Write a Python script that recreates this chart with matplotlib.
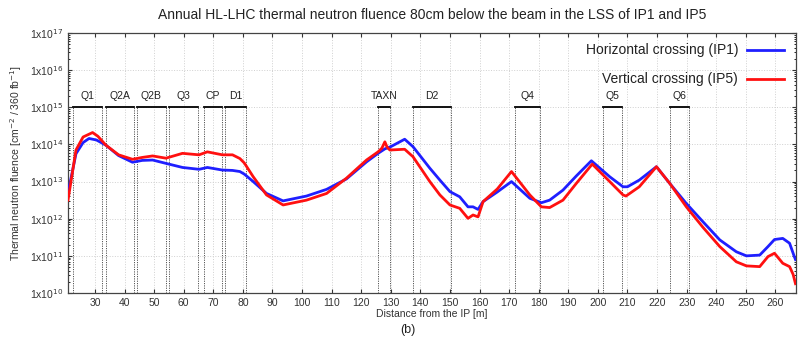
import numpy as np
import matplotlib
matplotlib.use('Agg')
import matplotlib.pyplot as plt
from matplotlib.ticker import FixedLocator, LogLocator, NullFormatter

# ----- DATA -----
# distance from IP [m] and log10 of fluence
h_x = [20.9, 21.3, 23.6, 26.0, 28.0, 30.5, 33.7, 38.0, 42.7, 46.0, 49.5, 54.0,
       59.6, 65.2, 68.0, 73.1, 76.5, 79.0, 80.5, 83.5, 88.0, 93.6, 101.5, 108.3,
       115.0, 121.8, 125.7, 128.0, 130.0, 134.7, 137.5, 143.2, 146.6, 150.0,
       153.3, 156.1, 157.8, 159.5, 161.2, 166.0, 170.8, 177.0, 180.9, 183.7,
       188.2, 192.7, 197.8, 204.0, 208.5, 210.0, 214.0, 219.8, 224.3, 229.9,
       235.5, 241.2, 246.8, 250.2, 254.7, 257.5, 259.7, 262.5, 264.8, 266.4, 266.8]
h_y = [12.75, 12.85, 13.75, 14.05, 14.16, 14.12, 13.98, 13.70, 13.52, 13.57, 13.58, 13.49,
       13.38, 13.33, 13.38, 13.31, 13.30, 13.27, 13.20, 13.00, 12.68, 12.48, 12.61, 12.79,
       13.07, 13.53, 13.76, 13.88, 13.94, 14.14, 13.94, 13.36, 13.04, 12.73,
       12.59, 12.32, 12.32, 12.25, 12.46, 12.72, 13.00, 12.55, 12.43, 12.50,
       12.77, 13.15, 13.56, 13.13, 12.86, 12.86, 13.04, 13.40, 12.95, 12.41,
       11.92, 11.43, 11.11, 11.00, 11.02, 11.25, 11.44, 11.47, 11.34, 10.98, 10.90]

v_x = [20.9, 21.5, 23.6, 26.0, 29.2, 31.0, 33.7, 38.0, 42.7, 46.0, 49.5, 54.0,
       59.6, 65.2, 68.0, 73.1, 76.5, 79.0, 80.5, 83.5, 88.0, 93.6, 101.5, 108.3,
       115.0, 121.8, 125.7, 127.0, 128.0, 128.8, 129.7, 134.7, 137.5, 143.2,
       146.6, 150.0, 153.3, 156.1, 157.8, 159.5, 161.2, 166.0, 170.8, 177.0,
       180.9, 183.7, 188.2, 192.7, 198.1, 204.0, 208.5, 209.5, 214.0, 219.8,
       224.3, 229.9, 235.5, 241.2, 246.8, 250.2, 254.7, 257.5, 259.7, 262.5,
       264.8, 266.0, 266.8]
v_y = [12.50, 12.80, 13.85, 14.20, 14.32, 14.22, 13.98, 13.72, 13.60, 13.65, 13.69, 13.63,
       13.76, 13.72, 13.80, 13.72, 13.72, 13.62, 13.50, 13.13, 12.64, 12.37, 12.50, 12.68,
       13.09, 13.58, 13.80, 13.90, 14.07, 13.92, 13.85, 13.87, 13.67, 13.00,
       12.64, 12.37, 12.28, 12.01, 12.10, 12.05, 12.46, 12.80, 13.27, 12.64,
       12.32, 12.30, 12.50, 12.95, 13.47, 13.00, 12.64, 12.61, 12.86, 13.40,
       12.95, 12.32, 11.77, 11.25, 10.84, 10.73, 10.71, 10.98, 11.07, 10.80,
       10.71, 10.50, 10.25]

# magnet / element boundaries [m]
elem_names = ['Q1', 'Q2A', 'Q2B', 'Q3', 'CP', 'D1', 'TAXN', 'D2', 'Q4', 'Q5', 'Q6']
elem_start = [22.7, 33.7, 44.3, 55.0, 66.8, 74.0, 125.7, 137.5, 172.1, 201.7, 224.5]
elem_end = [32.3, 43.3, 53.9, 64.9, 73.0, 81.0, 129.9, 150.3, 180.6, 208.3, 230.8]

x_ticks = list(range(30, 261, 10))
y_ticks = [1e10, 1e11, 1e12, 1e13, 1e14, 1e15, 1e16, 1e17]
y_labels = [r'1x10$^{%d}$' % e for e in range(10, 18)]

# ----- PLOT -----
plt.rcParams['font.family'] = ['Liberation Sans', 'DejaVu Sans']
fig = plt.figure(figsize=(8.05, 3.44), dpi=100)
ax = fig.add_axes([68 / 805, 1 - 293 / 344, (795.5 - 68) / 805, (293 - 33) / 344])

ax.set_yscale('log')
ax.set_xlim(20.9, 266.8)
ax.set_ylim(1e10, 1e17)

ax.grid(True, which='major', color='#d0d0d0', linestyle=':', linewidth=0.7)

# element boxes: dotted sides up to 1e15, black bar on top
for name, s, e in zip(elem_names, elem_start, elem_end):
    for xb in (s, e):
        ax.plot([xb, xb], [1e10, 1e15], color='#555555', linestyle=(0, (1.2, 1.2)),
                linewidth=0.7, zorder=2)
    ax.plot([s, e], [1e15, 1e15], color='black', linewidth=1.3, zorder=3)
    ax.text((s + e) / 2, 10 ** 15.3, name, ha='center', va='center', fontsize=7.5,
            color='#222222')

ax.plot(h_x, 10 ** np.array(h_y), color='#1f1fff', linewidth=2.0, zorder=4)
ax.plot(v_x, 10 ** np.array(v_y), color='#ff1010', linewidth=2.0, zorder=5)

ax.yaxis.set_major_locator(FixedLocator(y_ticks))
ax.set_yticklabels(y_labels)
ax.yaxis.set_minor_locator(LogLocator(base=10, subs=np.arange(2, 10), numticks=20))
ax.yaxis.set_minor_formatter(NullFormatter())
ax.set_xticks(x_ticks)
ax.tick_params(axis='both', which='major', labelsize=7.5, colors='#333333',
               direction='in', length=3, right=True, top=True)
ax.tick_params(axis='y', which='minor', direction='in', length=1.5, right=True)
for sp in ax.spines.values():
    sp.set_color('#444444')
    sp.set_linewidth(0.9)

# legend: right-aligned text with the sample line on its right (gnuplot style)
ax.text(0.921, 0.935, 'Horizontal crossing (IP1)', transform=ax.transAxes,
        ha='right', va='center', fontsize=10, color='#222222')
ax.plot([0.933, 0.984], [0.935, 0.935], transform=ax.transAxes, color='#1f1fff',
        linewidth=2.0)
ax.text(0.921, 0.823, 'Vertical crossing (IP5)', transform=ax.transAxes,
        ha='right', va='center', fontsize=10, color='#222222')
ax.plot([0.933, 0.984], [0.823, 0.823], transform=ax.transAxes, color='#ff1010',
        linewidth=2.0)

ax.set_xlabel('Distance from the IP [m]', fontsize=7.5, color='#333333', labelpad=1)
ax.set_ylabel(r'Thermal neutron fluence [cm$^{-2}$ / 360 fb$^{-1}$]', fontsize=7.5,
              color='#333333', labelpad=4)
ax.set_title('Annual HL-LHC thermal neutron fluence 80cm below the beam in the LSS of IP1 and IP5',
             fontsize=10, color='#222222', pad=10)

fig.text(408 / 805, 1 - 330 / 344, '(b)', ha='center', va='center', fontsize=9,
         color='#222222')

fig.savefig('out.png', dpi=100)
